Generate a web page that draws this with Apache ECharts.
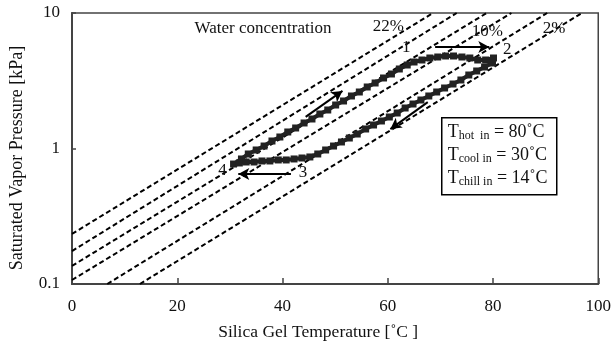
<!DOCTYPE html>
<html>
<head>
<meta charset="utf-8">
<script src="https://cdn.jsdelivr.net/npm/echarts@6/dist/echarts.min.js"></script>
<style>
  html, body { margin: 0; padding: 0; background: #fff; }
  #chart { width: 614px; height: 348px; }
</style>
</head>
<body>
<div id="chart"></div>
<script>
// isosteres (constant water concentration), [T, P] at both ends
const isoLines = [
  [[0, 0.234], [68.6, 10]],
  [[0, 0.175], [73.1, 10]],
  [[0, 0.136], [78.8, 10]],
  [[0, 0.107], [83.5, 10]],
  [[6.7, 0.1], [90.3, 10]],
  [[12.9, 0.1], [96.9, 10]]
]

// measured cycle 4 -> 1 -> 2 -> 3 -> 4
const branch41 = [
  [30.7, 0.768], [32.2, 0.837], [33.5, 0.911], [35.0, 0.975], [36.5, 1.043],
  [38.0, 1.136], [39.5, 1.216], [41.0, 1.324], [42.5, 1.417], [44.1, 1.543],
  [45.6, 1.651], [47.1, 1.797], [48.6, 1.924], [50.1, 2.094], [51.6, 2.242],
  [53.1, 2.441], [54.6, 2.612], [56.1, 2.844], [57.6, 3.044], [59.2, 3.314],
  [60.7, 3.547], [62.2, 3.862], [63.7, 4.133], [65.0, 4.349]
]
const branch12 = [
  [66.5, 4.499], [68.0, 4.655], [69.5, 4.735], [71.0, 4.816], [72.5, 4.816],
  [74.1, 4.735], [75.6, 4.655], [77.1, 4.499], [78.6, 4.499], [80.1, 4.655],
  [79.9, 4.276]
]
const branch23 = [
  [78.4, 3.996], [76.9, 3.733], [75.4, 3.487], [73.9, 3.203], [72.4, 2.992],
  [70.8, 2.796], [69.3, 2.612], [67.8, 2.441], [66.3, 2.280], [64.8, 2.130],
  [63.3, 1.990], [61.8, 1.828], [60.3, 1.708], [58.8, 1.596], [57.3, 1.491],
  [55.8, 1.393], [54.2, 1.279], [52.7, 1.195], [51.2, 1.117], [49.7, 1.043],
  [48.2, 0.975], [46.7, 0.911], [45.2, 0.866]
]
const branch34 = [
  [43.7, 0.851], [42.2, 0.837], [40.7, 0.823], [39.2, 0.823], [37.6, 0.809],
  [36.1, 0.809], [34.6, 0.795], [33.1, 0.795], [31.8, 0.782]
]

const arrows = [
  [[44.4, 1.71], [51.4, 2.66]],
  [[69.0, 5.61], [79.3, 5.61]],
  [[67.6, 2.20], [60.5, 1.39]],
  [[41.6, 0.648], [31.6, 0.648]]
]

const noteTexts = ['Water concentration', '22%', '10%', '2%', '1', '2', '3', '4']
const notePos = [
  [36.3, 7.69], [60.1, 7.88], [78.9, 7.36], [91.6, 7.62],
  [63.5, 5.52], [82.7, 5.42], [43.9, 0.665], [28.6, 0.682]
]

const boxLines = [
  ['hot  in', '80'],
  ['cool in', '30'],
  ['chill in', '14']
]

const font = 'Liberation Serif'
const loop = branch41.concat(branch12, branch23, branch34)

const chart = echarts.init(document.getElementById('chart'))

const option = {
  animation: false,
  textStyle: { fontFamily: font },
  grid: {
    left: 69.5, right: 14, top: 13, bottom: 64,
    show: true, borderColor: '#444', borderWidth: 1.5
  },
  xAxis: {
    type: 'value', min: 0, max: 100, interval: 20,
    name: 'Silica Gel Temperature [˚C ]',
    nameLocation: 'middle', nameGap: 39,
    nameTextStyle: { fontFamily: font, fontSize: 17.5, color: '#111', padding: [0, 34, 0, 0] },
    axisLine: { show: true, lineStyle: { color: '#444', width: 2 } },
    axisTick: { inside: true, length: 6, lineStyle: { color: '#444', width: 1.5 } },
    axisLabel: { margin: 14, fontFamily: font, fontSize: 17, color: '#111' },
    splitLine: { show: false }
  },
  yAxis: {
    type: 'log', logBase: 10, min: 0.1, max: 10,
    name: 'Saturated Vapor Pressure [kPa]',
    nameLocation: 'middle', nameGap: 46,
    nameTextStyle: { fontFamily: font, fontSize: 18, color: '#111', padding: [0, 19, 0, 0] },
    axisLine: { show: true, lineStyle: { color: '#444', width: 2 } },
    axisTick: { inside: true, length: 4, lineStyle: { color: '#444', width: 1.5 } },
    axisLabel: { margin: 12, fontFamily: font, fontSize: 17, color: '#111' },
    splitLine: { show: false },
    minorTick: { show: false }
  },
  series: [
    ...isoLines.map(l => ({
      type: 'line', data: l, symbol: 'none', silent: true, z: 1,
      lineStyle: { color: '#000', width: 2, type: [5, 3] }
    })),
    {
      type: 'line', data: loop, symbol: 'rect', symbolSize: 7, z: 3,
      itemStyle: { color: '#222' },
      lineStyle: { color: '#222', width: 4 },
      markLine: {
        silent: true, symbol: ['none', 'arrow'], symbolSize: [9, 11],
        lineStyle: { color: '#000', width: 2, type: 'solid' },
        label: { show: false },
        data: arrows.map(a => [{ coord: a[0] }, { coord: a[1] }])
      }
    },
    {
      type: 'scatter', symbolSize: 1, silent: true, z: 4,
      itemStyle: { color: 'rgba(0,0,0,0)', opacity: 1 },
      label: {
        show: true, position: 'inside', formatter: '{b}',
        fontFamily: font, fontSize: 17, color: '#111'
      },
      data: noteTexts.map((t, i) => ({ name: t, value: notePos[i] }))
    }
  ],
  graphic: [{
    type: 'group', left: 441, top: 117,
    children: [
      {
        type: 'rect', shape: { x: 0, y: 0, width: 115, height: 77 },
        style: { fill: '#fff', stroke: '#000', lineWidth: 1.5 }
      },
      ...boxLines.map((b, i) => ({
        type: 'text', x: 6, y: 14 + i * 23,
        style: {
          text: '{t|T}{s|' + b[0] + '}{t| = ' + b[1] + '˚C}',
          verticalAlign: 'middle',
          rich: {
            t: { fontFamily: font, fontSize: 18, lineHeight: 20, verticalAlign: 'bottom', fill: '#111' },
            s: { fontFamily: font, fontSize: 12, lineHeight: 12, verticalAlign: 'bottom', fill: '#111' }
          }
        }
      }))
    ]
  }]
}

chart.setOption(option)
</script>
</body>
</html>
